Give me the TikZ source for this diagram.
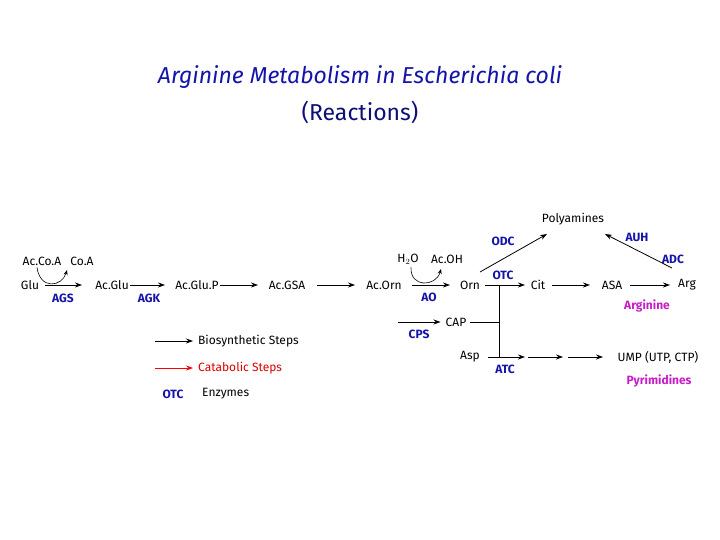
\documentclass[tikz,border=0pt]{standalone}
\usepackage{fontspec}
\setmainfont{Fira Sans}
\usetikzlibrary{arrows.meta,calc}
\definecolor{enz}{RGB}{20,20,170}
\definecolor{mag}{RGB}{200,30,200}
\begin{document}
\begin{tikzpicture}[x=1pt,y=-1pt,
  every node/.style={font=\fontsize{12}{14}\selectfont,inner sep=1pt},
  enzl/.style={text=enz,font=\fontsize{12}{14}\selectfont\bfseries},
  grp/.style={text=mag,font=\fontsize{12}{14}\selectfont\bfseries},
  rx/.style={-{Stealth[length=7pt,width=5pt]},line width=0.8pt},
  ln/.style={line width=0.8pt}]
\useasboundingbox (0,0) rectangle (720,540);
\node[text=enz,font=\fontsize{23}{26}\selectfont\itshape] (t1) at (360,77) {Arginine Metabolism in Escherichia coli};
\node[text=enz!70!black,font=\fontsize{23}{26}\selectfont] (t2) at (360,112) {(Reactions)};
% main row
\node (glu) at (30,285) {Glu};
\node (acglu) at (112,285) {Ac.Glu};
\node (acglup) at (197,285) {Ac.Glu.P};
\node (acgsa) at (287,285) {Ac.GSA};
\node (acorn) at (384,285) {Ac.Orn};
\node (orn) at (470,285) {Orn};
\node (cit) at (538,285) {Cit};
\node (asa) at (612,285) {ASA};
\node (arg) at (687,285) {Arg};
\node (poly) at (573,219) {Polyamines};
\node (accoa) at (42,261) {Ac.Co.A};
\node (coa) at (82,261) {Co.A};
\node (h2o) at (408,259) {H$_2$O};
\node (acoh) at (447,259) {Ac.OH};
\node (cap) at (456,322) {CAP};
\node (asp) at (470,357) {Asp};
\node (ump) at (658,357) {UMP (UTP, CTP)};
% enzymes
\node[enzl] (ags) at (63,298) {AGS};
\node[enzl] (agk) at (149,298) {AGK};
\node[enzl] (ao) at (429,297) {AO};
\node[enzl] (otc) at (503,275) {OTC};
\node[enzl] (odc) at (503,241) {ODC};
\node[enzl] (auh) at (637,237) {AUH};
\node[enzl] (adc) at (673,259) {ADC};
\node[enzl] (cps) at (419,334) {CPS};
\node[enzl] (atc) at (505,369) {ATC};
\node[grp] (argg) at (647,306) {Arginine};
\node[grp] (pyr) at (659,381) {Pyrimidines};
\coordinate (pl) at (547,234);
\coordinate (pr) at (605,234);
% arrows
\draw[rx] (45,285) -- (82,285);
\draw[rx] (130,285) -- (165,285);
\draw[rx] (220,285) -- (258,285);
\draw[rx] (317,285) -- (355,285);
\draw[rx] (412,285) -- (450,285);
\draw[rx] (485,285) -- (525,285);
\draw[rx] (552,285) -- (590,285);
\draw[rx] (630,285) -- (670,285);
\draw[rx] (480,272) -- (pl);
\draw[rx] (672,268) -- (pr);
\draw[->,>={Stealth[length=5pt,width=4pt]},line width=0.6pt] ($(accoa.south)+(-5,1)$) .. controls (40,290) and (62,287) .. (67,270);
\draw[->,>={Stealth[length=5pt,width=4pt]},line width=0.6pt] ($(h2o.south)+(3,2)$) .. controls (410,288) and (436,287) .. (441,269);
\draw[ln] (499,285) -- (499,357);
\draw[ln] ($(cap.east)+(3,0)$) -- (499,322);
\draw[rx] (398,322) -- ($(cap.west)+(-4,0)$);
\draw[rx] (488,357) -- (525,357);
\draw[rx] (528,357) -- (563,357);
\draw[rx] (568,357) -- (603,357);
% legend
\coordinate (l1) at (155,341);
\node[anchor=west] (bio) at (197,341) {Biosynthetic Steps};
\draw[rx] (l1) -- ($(bio.west)+(-4,0)$);
\coordinate (l2) at (155,368);
\node[anchor=west,text=red!85!black] (cat) at (197,368) {Catabolic Steps};
\draw[rx,red] (l2) -- ($(cat.west)+(-4,0)$);
\node[enzl] (lotc) at (173,394) {OTC};
\node[anchor=west] (enzt) at (201,394) {Enzymes};
\end{tikzpicture}
\end{document}
